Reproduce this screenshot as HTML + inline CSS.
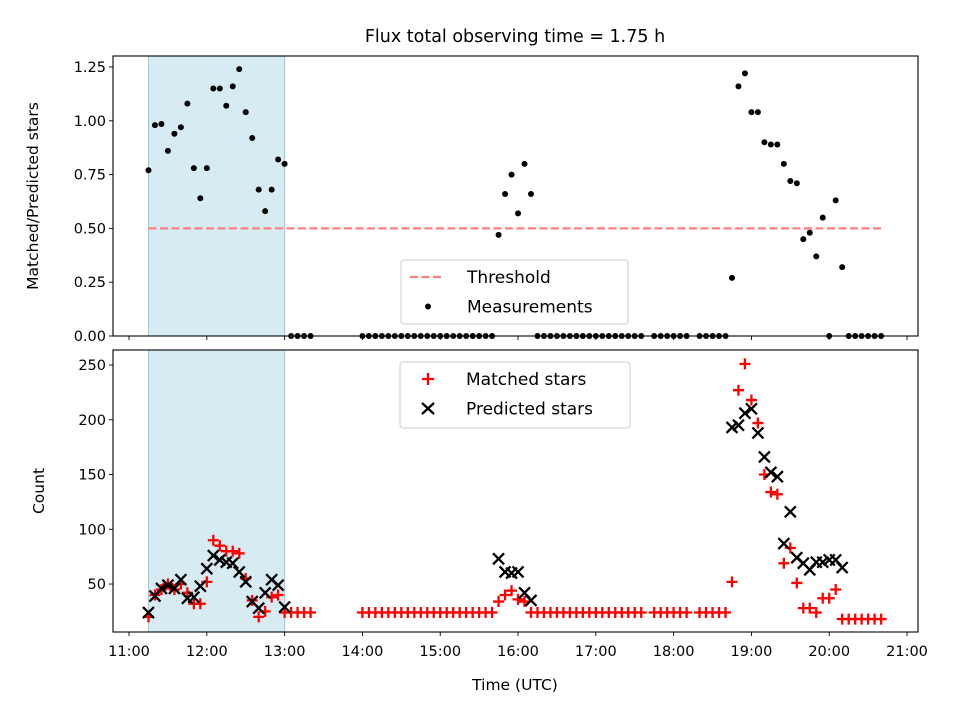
<!DOCTYPE html>
<html><head><meta charset="utf-8"><style>
html,body{margin:0;padding:0;background:#fff;}
svg{display:block;font-family:"DejaVu Sans","Liberation Sans",sans-serif;}
</style></head><body>
<svg id="chart" width="960" height="720" viewBox="0 0 960 720"></svg>
<script>
// Sample index i -> time = 11:15 + 5 min * i
const sampleIdx = [];
for (let i = 0; i <= 113; i++) sampleIdx.push(i);
const ratioSeg1 = [0.77,0.98,0.985,0.86,0.94,0.97,1.08,0.78,0.64,0.78,1.15,1.15,1.07,1.16,1.24,1.04,0.92,0.68,0.58,0.68,0.82,0.80,0,0,0,0];
const matchedSeg1 = [20,40,45,50,45,50,42,32,32,52,90,85,80,80,78,55,35,20,25,38,40,24,24,24,24,24];
const predictedSeg1 = [24,39,46,49,46,54,37,38,48,64,76,72,70,69,61,52,34,28,42,54,49,29,null,null,null,null];
const ratioSeg2 = [0.47,0.66,0.75,0.57,0.80,0.66];
const matchedSeg2 = [34,40,44,36,34,24];
const predictedSeg2 = [73,61,60,61,42,35];
const ratioSeg3 = [0.27,1.16,1.22,1.04,1.04,0.90,0.89,0.89,0.80,0.72,0.71,0.45,0.48,0.37,0.55,0,0.63,0.32];
const matchedSeg3 = [52,227,251,218,197,150,134,132,69,83,51,28,28,24,37,37,45,18];
const predictedSeg3 = [193,195,206,210,188,166,152,148,87,116,74,69,63,70,70,72,72,65];
const missingIdx = [26,27,28,29,30,31,32,77,84];
const xTickLabels = ["11:00","12:00","13:00","14:00","15:00","16:00","17:00","18:00","19:00","20:00","21:00"];
const ratioTicks = [0,0.25,0.5,0.75,1.0,1.25];
const countTicks = [50,100,150,200,250];
const threshold = 0.5;
const shadeStart = 11.25, shadeEnd = 13.0;

// assemble full series
const times=[], ratio=[], matched=[], predicted=[];
for (const i of sampleIdx){
  if (missingIdx.includes(i)) continue;
  let r=0,m=24,p=null;
  if (i<=25){r=ratioSeg1[i];m=matchedSeg1[i];p=predictedSeg1[i];}
  else if (i>=54&&i<=59){r=ratioSeg2[i-54];m=matchedSeg2[i-54];p=predictedSeg2[i-54];}
  else if (i>=90&&i<=107){r=ratioSeg3[i-90];m=matchedSeg3[i-90];p=predictedSeg3[i-90];}
  else if (i>=108){m=18;}
  times.push(11.25+i/12); ratio.push(r); matched.push(m); predicted.push(p);
}

const svg=document.getElementById('chart');
const NS='http://www.w3.org/2000/svg';
function mk(tag,attrs,parent){const e=document.createElementNS(NS,tag);for(const k in attrs)e.setAttribute(k,attrs[k]);(parent||svg).appendChild(e);return e;}
const L=113,R=918, T1=56,B1=336, T2=350,B2=632;
const xMin=10.794,xMax=21.141;
const X=h=>L+(h-xMin)/(xMax-xMin)*(R-L);
const Y1=v=>B1-(v-0)/(1.301-0)*(B1-T1);
const Y2=v=>B2-(v-6.2)/(263.7-6.2)*(B2-T2);

// title
let t=mk('text',{x:515,y:42,'font-size':'17.5','text-anchor':'middle',fill:'#000'});t.textContent='Flux total observing time = 1.75 h';



function panel(T,B,Yf,ticks,fmt,name){
  const g=mk('g',{});
  
  
  const sh=mk('rect',{x:X(shadeStart),y:T,width:X(shadeEnd)-X(shadeStart),height:B-T,fill:'#add8e6','fill-opacity':0.5,stroke:'#9cc8d6','stroke-width':1},g);
  
  
  for(const v of ticks){const y=Yf(v);
    mk('line',{x1:L-4,x2:L,y1:y,y2:y,stroke:'#000','stroke-width':0.9},g);
    const tx=mk('text',{x:L-7,y:y+5,'font-size':'14.5','text-anchor':'end'},g);tx.textContent=fmt(v);
    
    
  }
  xTickLabels.forEach((lab,k)=>{const x=X(11+k);mk('line',{x1:x,x2:x,y1:B,y2:B+4,stroke:'#000','stroke-width':0.9},g);});
  return g;
}
const g1=panel(T1,B1,Y1,ratioTicks,v=>v.toFixed(2),'ratio-panel');
const g2=panel(T2,B2,Y2,countTicks,v=>String(v),'count-panel');

// threshold
const th=mk('line',{x1:X(11.25),x2:X(20.67),y1:Y1(threshold),y2:Y1(threshold),stroke:'#ff7f7f','stroke-width':2.2,'stroke-dasharray':'8,3.5'},g1);


// measurements
times.forEach((h,k)=>{const c=mk('circle',{cx:X(h),cy:Y1(ratio[k]),r:3,fill:'#000'},g1);
  
  });
// matched (+) and predicted (x)
times.forEach((h,k)=>{
  const x=X(h),y=Y2(matched[k]);
  const p=mk('path',{d:`M${x-5.5},${y}H${x+5.5}M${x},${y-5.5}V${y+5.5}`,stroke:'#ff0000','stroke-width':2.3},g2);
  
  
});
times.forEach((h,k)=>{
  if(predicted[k]==null)return;
  const x=X(h),y=Y2(predicted[k]);
  const p=mk('path',{d:`M${x-5.5},${y-5.5}L${x+5.5},${y+5.5}M${x-5.5},${y+5.5}L${x+5.5},${y-5.5}`,stroke:'#000','stroke-width':2.3},g2);
  
  
});
// frames
mk('rect',{x:L,y:T1,width:R-L,height:B1-T1,fill:'none',stroke:'#000','stroke-width':1.1});
mk('rect',{x:L,y:T2,width:R-L,height:B2-T2,fill:'none',stroke:'#000','stroke-width':1.1});
// x tick labels
xTickLabels.forEach((lab,k)=>{const tx=mk('text',{x:X(11+k),y:B2+24,'font-size':'14.5','text-anchor':'middle'});tx.textContent=lab;
  
  });
let xt=mk('text',{x:515,y:690,'font-size':'15.5','text-anchor':'middle'});xt.textContent='Time (UTC)';


let y1=mk('text',{x:0,y:0,'font-size':'15.5','text-anchor':'middle',transform:`translate(38,${(T1+B1)/2}) rotate(-90)`});y1.textContent='Matched/Predicted stars';


let y2=mk('text',{x:0,y:0,'font-size':'15.5','text-anchor':'middle',transform:`translate(44,${(T2+B2)/2}) rotate(-90)`});y2.textContent='Count';



// legends
function legend(x,y,w,h,items,name){
  const g=mk('g',{});
  
  
  mk('rect',{x,y,width:w,height:h,rx:3,fill:'#fff','fill-opacity':0.8,stroke:'#cccccc'},g);
  items.forEach((it,k)=>{const cy=y+17+k*29.5;it.draw(g,x+29,cy);
    const tx=mk('text',{x:x+66,y:cy+6,'font-size':'17'},g);tx.textContent=it.label;
    
    });
}
legend(401,260,227,64,[
 {label:'Threshold',draw:(g,x,y)=>mk('line',{x1:x-20,x2:x+12,y1:y,y2:y,stroke:'#ff7f7f','stroke-width':2.2,'stroke-dasharray':'8,3.5'},g)},
 {label:'Measurements',draw:(g,x,y)=>mk('circle',{cx:x-2,cy:y,r:3,fill:'#000'},g)}
],'ratio-legend');
legend(400,362,230,66,[
 {label:'Matched stars',draw:(g,x,y)=>mk('path',{d:`M${x-7},${y}H${x+5}M${x-1},${y-6}V${y+6}`,stroke:'#f00','stroke-width':2.3},g)},
 {label:'Predicted stars',draw:(g,x,y)=>mk('path',{d:`M${x-7},${y-5.5}L${x+5},${y+5.5}M${x-7},${y+5.5}L${x+5},${y-5.5}`,stroke:'#000','stroke-width':2.3},g)}
],'count-legend');
</script>
</body></html>
